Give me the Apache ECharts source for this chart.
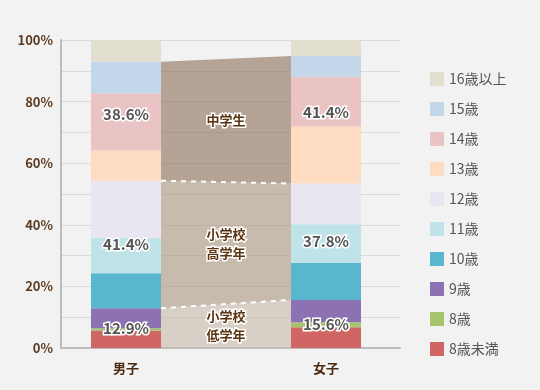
<!DOCTYPE html>
<html>
<head>
<meta charset="utf-8">
<script src="https://cdn.jsdelivr.net/npm/echarts@6/dist/echarts.min.js"></script>
<style>
html,body{margin:0;padding:0;background:#f2f2f2;}
#chart{width:540px;height:390px;}
</style>
</head>
<body>
<div id="chart"></div>
<script>
// ---- data ----
var categories = ['男子', '女子'];
var ageNames = ['8歳未満', '8歳', '9歳', '10歳', '11歳', '12歳', '13歳', '14歳', '15歳', '16歳以上'];
var boys  = [5.6, 0.8, 6.5, 11.4, 11.4, 18.6, 9.8, 18.6, 10.2, 7.1];
var girls = [6.7, 1.7, 7.2, 12.0, 12.6, 13.2, 18.5, 16.2, 6.7, 5.2];
var groupNames = ['小学校\n低学年', '小学校\n高学年', '中学生'];
var boysGroup  = [12.9, 41.4, 38.6];
var girlsGroup = [15.6, 37.8, 41.4];
var yTicks = [0, 20, 40, 60, 80, 100];

// ---- styles ----
var ageColors = ['#d06663', '#a6c46d', '#8d72b3', '#58b7cf', '#c0e3e9', '#e9e6f1', '#fedcc2', '#eac4c4', '#c3d6ea', '#e3dfce'];
var bandColors = ['rgba(199,184,169,0.6)', 'rgba(170,150,129,0.6)', 'rgba(140,110,87,0.6)'];
var BAR_W = 70;
var FONT = '"Noto Sans CJK JP", "Noto Sans", sans-serif';

function cum(arr, n) { var s = 0; for (var i = 0; i < n; i++) s += arr[i]; return s; }

var series = ageNames.map(function (name, i) {
  return {
    name: name, type: 'bar', stack: 'total', xAxisIndex: 0, yAxisIndex: 0,
    barWidth: BAR_W, itemStyle: { color: ageColors[i] },
    data: [boys[i], girls[i]], z: 3
  };
});

// band between bars
series.push({
  type: 'custom', xAxisIndex: 0, yAxisIndex: 0, z: 2, silent: true,
  data: groupNames.map(function (n, i) { return [i]; }),
  renderItem: function (params, api) {
    var i = params.dataIndex;
    var h = BAR_W / 2;
    var lb = cum(boysGroup, i), hb = cum(boysGroup, i + 1);
    var lg = cum(girlsGroup, i), hg = cum(girlsGroup, i + 1);
    var p1 = api.coord([0, lb]), p2 = api.coord([0, hb]);
    var p3 = api.coord([1, hg]), p4 = api.coord([1, lg]);
    var pts = [[p1[0] + h, p1[1]], [p2[0] + h, p2[1]], [p3[0] - h, p3[1]], [p4[0] - h, p4[1]]];
    var cx = (p1[0] + h + p4[0] - h) / 2;
    var cy = (p1[1] + p2[1] + p3[1] + p4[1]) / 4;
    var children = [{
      type: 'polygon', shape: { points: pts }, style: { fill: bandColors[i] }
    }];
    if (i < groupNames.length - 1) {
      children.push({
        type: 'line', z2: 5,
        shape: { x1: pts[1][0], y1: pts[1][1], x2: pts[2][0], y2: pts[2][1] },
        style: { stroke: '#ffffff', lineWidth: 2, lineDash: [5, 5] }
      });
    }
    children.push({
      type: 'text', z2: 10,
      style: {
        x: cx, y: cy, text: groupNames[i], align: 'center', verticalAlign: 'middle',
        fill: '#5a3310', font: 'bold 13px ' + FONT, lineHeight: 19,
        stroke: '#ffffff', lineWidth: 3
      }
    });
    return { type: 'group', children: children };
  }
});

// percentage labels on bars
var pctData = [];
categories.forEach(function (c, ci) {
  groupNames.forEach(function (g, gi) { pctData.push([ci, gi]); });
});
series.push({
  type: 'custom', xAxisIndex: 0, yAxisIndex: 0, z: 10, silent: true,
  data: pctData,
  renderItem: function (params, api) {
    var ci = api.value(0), gi = api.value(1);
    var arr = ci === 0 ? boysGroup : girlsGroup;
    var mid = cum(arr, gi) + arr[gi] / 2;
    var p = api.coord([ci, mid]);
    var off = gi === 2 ? -7 : 0;
    return {
      type: 'text',
      style: {
        x: p[0], y: p[1] + off, text: arr[gi].toFixed(1) + '%',
        align: 'center', verticalAlign: 'middle',
        fill: '#555555', font: 'bold 15px ' + FONT,
        stroke: '#ffffff', lineWidth: 3
      }
    };
  }
});

var chart = echarts.init(document.getElementById('chart'), null, { renderer: 'canvas' });
chart.setOption({
  backgroundColor: '#f2f2f2',
  animation: false,
  textStyle: { fontFamily: FONT },
  grid: [
    { left: 26, top: 40, width: 400, bottom: 42 },
    { left: 61, top: 40, right: 140, bottom: 42 }
  ],
  legend: {
    orient: 'vertical', left: 425, top: 67,
    itemWidth: 14, itemHeight: 14, itemGap: 16,
    icon: 'rect',
    data: ageNames.slice().reverse(),
    textStyle: { color: '#555555', fontSize: 14, fontFamily: FONT }
  },
  xAxis: [
    {
      gridIndex: 0, type: 'category', data: categories,
      axisLine: { show: false }, axisTick: { show: false },
      axisLabel: { color: '#4a2a10', fontWeight: 'bold', fontSize: 13, margin: 14 }
    },
    {
      gridIndex: 1, type: 'value', min: 0, max: 1,
      axisLabel: { show: false }, axisTick: { show: false }, splitLine: { show: false },
      axisLine: { show: true, lineStyle: { color: '#bdbdbd', width: 2 } }
    }
  ],
  yAxis: [
    {
      gridIndex: 0, type: 'value', min: 0, max: 100,
      show: false, splitLine: { show: false }
    },
    {
      gridIndex: 1, type: 'value', min: 0, max: 100, interval: 10,
      axisLine: { show: true, lineStyle: { color: '#bdbdbd', width: 2 } },
      axisTick: { show: false },
      axisLabel: {
        color: '#5a3b22', fontWeight: 'bold', fontSize: 13, margin: 8,
        formatter: function (v) { return yTicks.indexOf(v) >= 0 ? v + '%' : ''; }
      },
      splitLine: { show: true, lineStyle: { color: '#dadada', width: 1 } }
    }
  ],
  series: series
});
</script>
</body>
</html>
